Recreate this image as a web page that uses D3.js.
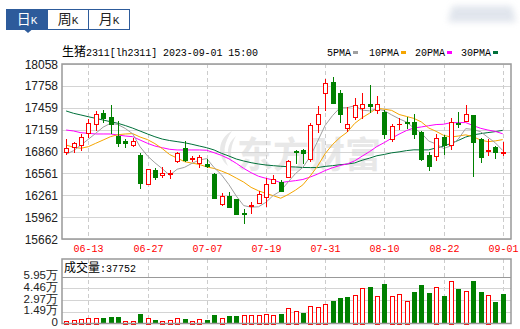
<!DOCTYPE html>
<html>
<head>
<meta charset="utf-8">
<script src="https://cdn.jsdelivr.net/npm/d3@7"></script>
<style>
  html, body { margin: 0; padding: 0; background: #fff; }
  svg { display: block; }
</style>
</head>
<body>
<div id="chart"></div>
<script>
const W = 520, H = 329;
const MONO = "Liberation Mono, DejaVu Sans Mono, monospace";
const CJK = "Noto Sans CJK SC, sans-serif";
const SANS = "Liberation Sans, Arial, sans-serif";

// trading days shown (MM-DD)
const dates = [
  "06-08","06-09","06-12","06-13","06-14","06-15","06-16","06-19","06-20","06-21",
  "06-26","06-27","06-28","06-29","06-30","07-03","07-04","07-05","07-06","07-07",
  "07-10","07-11","07-12","07-13","07-14","07-17","07-18","07-19","07-20","07-21",
  "07-24","07-25","07-26","07-27","07-28","07-31","08-01","08-02","08-03","08-04",
  "08-07","08-08","08-09","08-10","08-11","08-14","08-15","08-16","08-17","08-18",
  "08-21","08-22","08-23","08-24","08-25","08-28","08-29","08-30","08-31","09-01"
];
const tickDates = ["06-13","06-27","07-07","07-19","07-31","08-10","08-22","09-01"];

const open = [16857,16926,16949,17109,17232,17391,17328,17072,17004,16945,
  16812,16411,16607,16545,16548,16730,16904,16757,16698,16689,
  16552,16137,16251,16206,16018,16114,16159,16241,16425,16449,
  16515,16867,16881,16757,17232,17657,17807,17657,17186,17328,
  17451,17510,17428,17405,17031,17230,17264,17268,17123,16812,
  16803,17063,16949,17246,17282,17360,17031,16863,16918,16839];
const high = [17027,16986,17100,17301,17415,17428,17497,17278,17027,17041,
  16835,16616,16630,16644,16607,16857,17004,16803,16812,16757,
  16562,16288,16301,16206,16073,16165,16319,16493,16538,16470,
  16744,16881,16890,17246,17483,17853,17876,17702,17474,17597,
  17657,17771,17620,17428,17232,17315,17328,17374,17141,16857,
  17096,17086,17315,17397,17497,17360,17049,17027,16935,16994];
const low = [16812,16835,16871,17041,17145,17246,17100,16926,16904,16918,
  16343,16411,16470,16493,16480,16707,16720,16712,16638,16630,
  16210,16118,16091,15991,15863,16000,16137,16104,16415,16306,
  16511,16685,16685,16712,17117,17419,17520,17246,17131,17291,
  17301,17383,17374,17027,16994,17155,17168,17031,16730,16593,
  16734,16812,16881,17178,17268,16515,16698,16803,16757,16798];
const close = [16904,16972,17054,17246,17369,17323,17237,16972,16972,17004,
  16433,16616,16507,16559,16562,16844,16744,16775,16789,16662,
  16228,16251,16104,16005,16008,16124,16274,16411,16480,16313,
  16730,16857,16835,17223,17369,17802,17528,17369,17232,17497,
  17506,17483,17506,17096,17213,17243,17255,17096,16757,16666,
  17041,16949,17268,17232,17374,16994,16789,16881,16857,16849];
const volume = [3800,4200,5100,6400,6400,6700,8000,8000,3300,3300,
  11800,6400,4200,3800,4200,6400,5500,3800,5100,4200,
  10500,7600,9300,9300,10500,10500,10500,12700,10500,11800,
  19100,15600,13100,22000,20700,25400,28300,32500,33400,36000,
  44900,46100,34700,49900,34700,38100,28300,39800,48700,38500,
  46100,34700,53700,44000,41000,53700,39800,36000,27100,37752];

const ma5 = [16822,16871,16949,17027,17109,17193,17246,17229,17175,17102,
  16924,16799,16706,16624,16535,16617,16643,16697,16743,16763,
  16640,16541,16407,16250,16119,16098,16103,16164,16259,16320,
  16442,16558,16643,16792,17003,17217,17351,17458,17460,17486,
  17426,17417,17445,17418,17361,17308,17263,17181,17113,17003,
  16963,16902,16936,17031,17173,17163,17131,17054,16979,16874];
const ma10 = [16949,16918,16904,16926,16972,17017,17063,17090,17100,17105,
  17058,17023,16968,16899,16818,16770,16721,16701,16683,16649,
  16628,16592,16551,16496,16441,16369,16322,16286,16255,16220,
  16270,16331,16404,16526,16662,16829,16955,17051,17126,17244,
  17322,17384,17452,17439,17423,17367,17340,17313,17265,17182,
  17136,17082,17058,17072,17088,17063,17017,16995,17005,17023];
const ma20 = [17154,17141,17117,17109,17100,17100,17100,17086,17072,17063,
  17017,16972,16935,16912,16890,16881,16881,16881,16881,16877,
  16843,16807,16760,16698,16629,16570,16521,16493,16469,16434,
  16449,16461,16477,16511,16551,16599,16638,16668,16690,16732,
  16796,16858,16928,16982,17042,17098,17147,17182,17196,17213,
  17229,17233,17255,17255,17256,17215,17178,17154,17135,17103];
const ma30 = [17415,17383,17360,17336,17314,17291,17268,17246,17215,17180,
  17140,17100,17062,17030,17010,16995,16980,16959,16935,16912,
  16881,16835,16798,16757,16730,16707,16689,16675,16666,16658,
  16652,16648,16641,16640,16640,16656,16666,16679,16688,16704,
  16740,16769,16802,16820,16842,16855,16872,16883,16882,16882,
  16909,16932,16971,17012,17058,17087,17104,17119,17132,17150];

const priceTicks = [18058,17758,17459,17159,16860,16561,16261,15962,15662];
const volTicks = [59500,44625,29750,14875,0];
const volTickLabels = ["5.95万","4.46万","2.97万","1.49万","0"];
const maNames = ["5PMA","10PMA","20PMA","30PMA"];
const tabs = ["日","周","月"];

const RED = "#ff0000", GREEN = "#008000";
const maColors = ["#a0a0a0", "#f5a500", "#ff00ff", "#00703a"];

const svg = d3.select("#chart").append("svg").attr("width", W).attr("height", H);

const plot = { left: 62, right: 511, top: 64, bottom: 239 };
const vplot = { top: 259, grid: 276.7, bottom: 323.5 };

const x = d3.scalePoint().domain(d3.range(dates.length)).range([62.4, 506.4]).padding(0.5);
const y = d3.scaleLinear().domain([15662, 18058]).range([plot.bottom, plot.top]);
const yv = d3.scaleLinear().domain([0, 59500]).range([vplot.bottom, vplot.grid]);
const cx = i => Math.round(x(i)) + 0.5;

// faint blurred decoration top right
const defs = svg.append("defs");
defs.append("filter").attr("id", "blur").attr("x", "-50%").attr("y", "-50%").attr("width", "200%").attr("height", "200%")
  .append("feGaussianBlur").attr("stdDeviation", 3);
svg.append("path").attr("d", "M452,6 L512,6 L516,22 L448,22 Z")
  .attr("fill", "#d9dfe8").attr("filter", "url(#blur)").attr("opacity", 0.8);

// tabs
const tabG = svg.append("g");
tabs.forEach((t, k) => {
  const tx = 6.5 + k * 41;
  tabG.append("rect").attr("x", tx).attr("y", 9.5).attr("width", 41).attr("height", 20)
    .attr("fill", k === 0 ? "#2d5b9b" : "#fff").attr("stroke", "#2d5b9b");
  const txt = tabG.append("text").attr("x", tx + 20.5).attr("y", 24).attr("text-anchor", "middle")
    .attr("fill", k === 0 ? "#fff" : "#222");
  txt.append("tspan").attr("font-family", CJK).attr("font-size", 14).text(t);
  txt.append("tspan").attr("font-family", MONO).attr("font-size", 11).text("K");
});
tabG.append("path").attr("d", "M24,29.5 L32,29.5 L28,33 Z").attr("fill", "#2d5b9b");

// title + legend
const title = svg.append("text").attr("x", 62).attr("y", 56).attr("fill", "#000");
title.append("tspan").attr("font-family", CJK).attr("font-size", 12).text("生猪");
title.append("tspan").attr("font-family", MONO).attr("font-size", 10)
  .attr("textLength", 172).attr("lengthAdjust", "spacing")
  .text("2311[lh2311] 2023-09-01 15:00");
svg.append("line").attr("x1", 27).attr("x2", 55).attr("y1", 60.5).attr("y2", 60.5)
  .attr("stroke", "#3a6fc0").attr("stroke-dasharray", "3,3");

const legendX = [327, 369, 415, 461];
maNames.forEach((n, k) => {
  svg.append("text").attr("font-family", MONO).attr("font-size", 10).attr("x", legendX[k]).attr("y", 56)
    .attr("fill", "#000").text(n);
  const w = n.length * 6;
  svg.append("rect").attr("x", legendX[k] + w + 2).attr("y", 51).attr("width", 5).attr("height", 3)
    .attr("fill", maColors[k]);
});

// watermark
const wm = svg.append("g").attr("fill", "#e8e8e8");
wm.append("text").attr("font-family", CJK).attr("font-size", 36).attr("font-weight", 700)
  .attr("x", 237).attr("y", 168).text("东方财富");
wm.append("path").attr("d", "M232,131 C218,138 216,156 228,166 C222,154 224,142 232,131 Z");
wm.append("path").attr("d", "M236,136 C226,144 226,156 232,163 C230,153 231,145 236,136 Z");

// main grid
const grid = svg.append("g").attr("shape-rendering", "crispEdges");
grid.selectAll(".hg").data(priceTicks).join("line")
  .attr("x1", plot.left).attr("x2", plot.right)
  .attr("y1", d => Math.round(y(d)) + 0.5).attr("y2", d => Math.round(y(d)) + 0.5)
  .attr("stroke", "#d4d4d4");
const tickIdx = tickDates.map(d => dates.indexOf(d));
grid.selectAll(".vg").data(tickIdx).join("line")
  .attr("x1", cx).attr("x2", cx).attr("y1", plot.top).attr("y2", plot.bottom)
  .attr("stroke", "#cccccc").attr("stroke-dasharray", "4,3");
grid.selectAll(".vg2").data(tickIdx).join("line")
  .attr("x1", cx).attr("x2", cx).attr("y1", vplot.top).attr("y2", vplot.bottom)
  .attr("stroke", "#cccccc").attr("stroke-dasharray", "4,3");

// y labels
svg.selectAll(".yl").data(priceTicks).join("text")
  .attr("x", 58).attr("y", d => y(d) + 4.5).attr("text-anchor", "end")
  .attr("font-family", SANS).attr("font-size", 12).attr("fill", "#222")
  .text(d => d);

// x labels
svg.selectAll(".xl").data(tickIdx).join("text")
  .attr("font-family", MONO).attr("x", cx).attr("y", 252).attr("text-anchor", "middle")
  .attr("font-size", 10).attr("fill", RED).text(i => dates[i]);

// MA lines
const maSeries = [ma5, ma10, ma20, ma30];
const line = d3.line().x((d, i) => x(i)).y(d => y(d));
maSeries.slice().reverse().forEach((s, k) => {
  svg.append("path").datum(s).attr("d", line).attr("fill", "none")
    .attr("stroke", maColors[3 - k]).attr("stroke-width", 1);
});

// candles
const candles = svg.append("g").attr("shape-rendering", "crispEdges");
dates.forEach((d, i) => {
  const up = close[i] >= open[i];
  const c = cx(i);
  const yo = Math.round(y(open[i])), yc = Math.round(y(close[i]));
  const yh = Math.round(y(high[i])), yl = Math.round(y(low[i]));
  const top = Math.min(yo, yc), bot = Math.max(yo, yc);
  const col = up ? RED : GREEN;
  const g = candles.append("g");
  g.append("line").attr("x1", c).attr("x2", c).attr("y1", yh).attr("y2", top).attr("stroke", col);
  g.append("line").attr("x1", c).attr("x2", c).attr("y1", bot).attr("y2", yl).attr("stroke", col);
  if (bot - top < 2) {
    g.append("rect").attr("x", c - 2.5).attr("y", top).attr("width", 5).attr("height", Math.max(1, bot - top + 1))
      .attr("fill", col);
  } else if (up) {
    g.append("rect").attr("x", c - 2).attr("y", top + 0.5).attr("width", 4).attr("height", bot - top)
      .attr("fill", "#fff").attr("stroke", col);
  } else {
    g.append("rect").attr("x", c - 2.5).attr("y", top).attr("width", 5).attr("height", bot - top + 1)
      .attr("fill", col);
  }
});

// main frame
svg.append("rect").attr("x", plot.left).attr("y", plot.top)
  .attr("width", plot.right - plot.left).attr("height", plot.bottom - plot.top)
  .attr("fill", "none").attr("stroke", "#999").attr("stroke-width", 1.5);

// volume panel
const vg = svg.append("g").attr("shape-rendering", "crispEdges");
vg.selectAll(".vh").data(volTicks.slice(1, 4)).join("line")
  .attr("x1", plot.left).attr("x2", plot.right)
  .attr("y1", d => Math.round(yv(d)) + 0.5).attr("y2", d => Math.round(yv(d)) + 0.5)
  .attr("stroke", "#d4d4d4");
vg.append("line").attr("x1", plot.left).attr("x2", plot.right)
  .attr("y1", Math.round(yv(volTicks[0])) + 0.5).attr("y2", Math.round(yv(volTicks[0])) + 0.5)
  .attr("stroke", "#999");

dates.forEach((d, i) => {
  const up = i === 0 || close[i] >= close[i - 1];
  const c = cx(i);
  const yt = Math.round(yv(volume[i])), yb = Math.round(yv(0));
  if (up) {
    vg.append("rect").attr("x", c - 2).attr("y", yt + 0.5).attr("width", 4).attr("height", yb - yt - 0.5)
      .attr("fill", "#fff").attr("stroke", RED);
  } else {
    vg.append("rect").attr("x", c - 2.5).attr("y", yt).attr("width", 5).attr("height", yb - yt)
      .attr("fill", GREEN);
  }
});

svg.append("rect").attr("x", plot.left).attr("y", vplot.top)
  .attr("width", plot.right - plot.left).attr("height", vplot.bottom - vplot.top)
  .attr("fill", "none").attr("stroke", "#999").attr("stroke-width", 1.5);

svg.selectAll(".vl").data(volTicks).join("text")
  .attr("x", 58).attr("y", d => yv(d) + 2.5).attr("text-anchor", "end")
  .attr("font-family", SANS).attr("font-size", 11.5).attr("fill", "#222")
  .text((d, k) => volTickLabels[k]);

const vt = svg.append("text").attr("x", 64).attr("y", 272).attr("fill", "#000");
vt.append("tspan").attr("font-family", CJK).attr("font-size", 12).text("成交量");
vt.append("tspan").attr("font-family", MONO).attr("font-size", 10)
  .attr("textLength", 36).attr("lengthAdjust", "spacing")
  .text(":" + volume[volume.length - 1]);
</script>
</body>
</html>
